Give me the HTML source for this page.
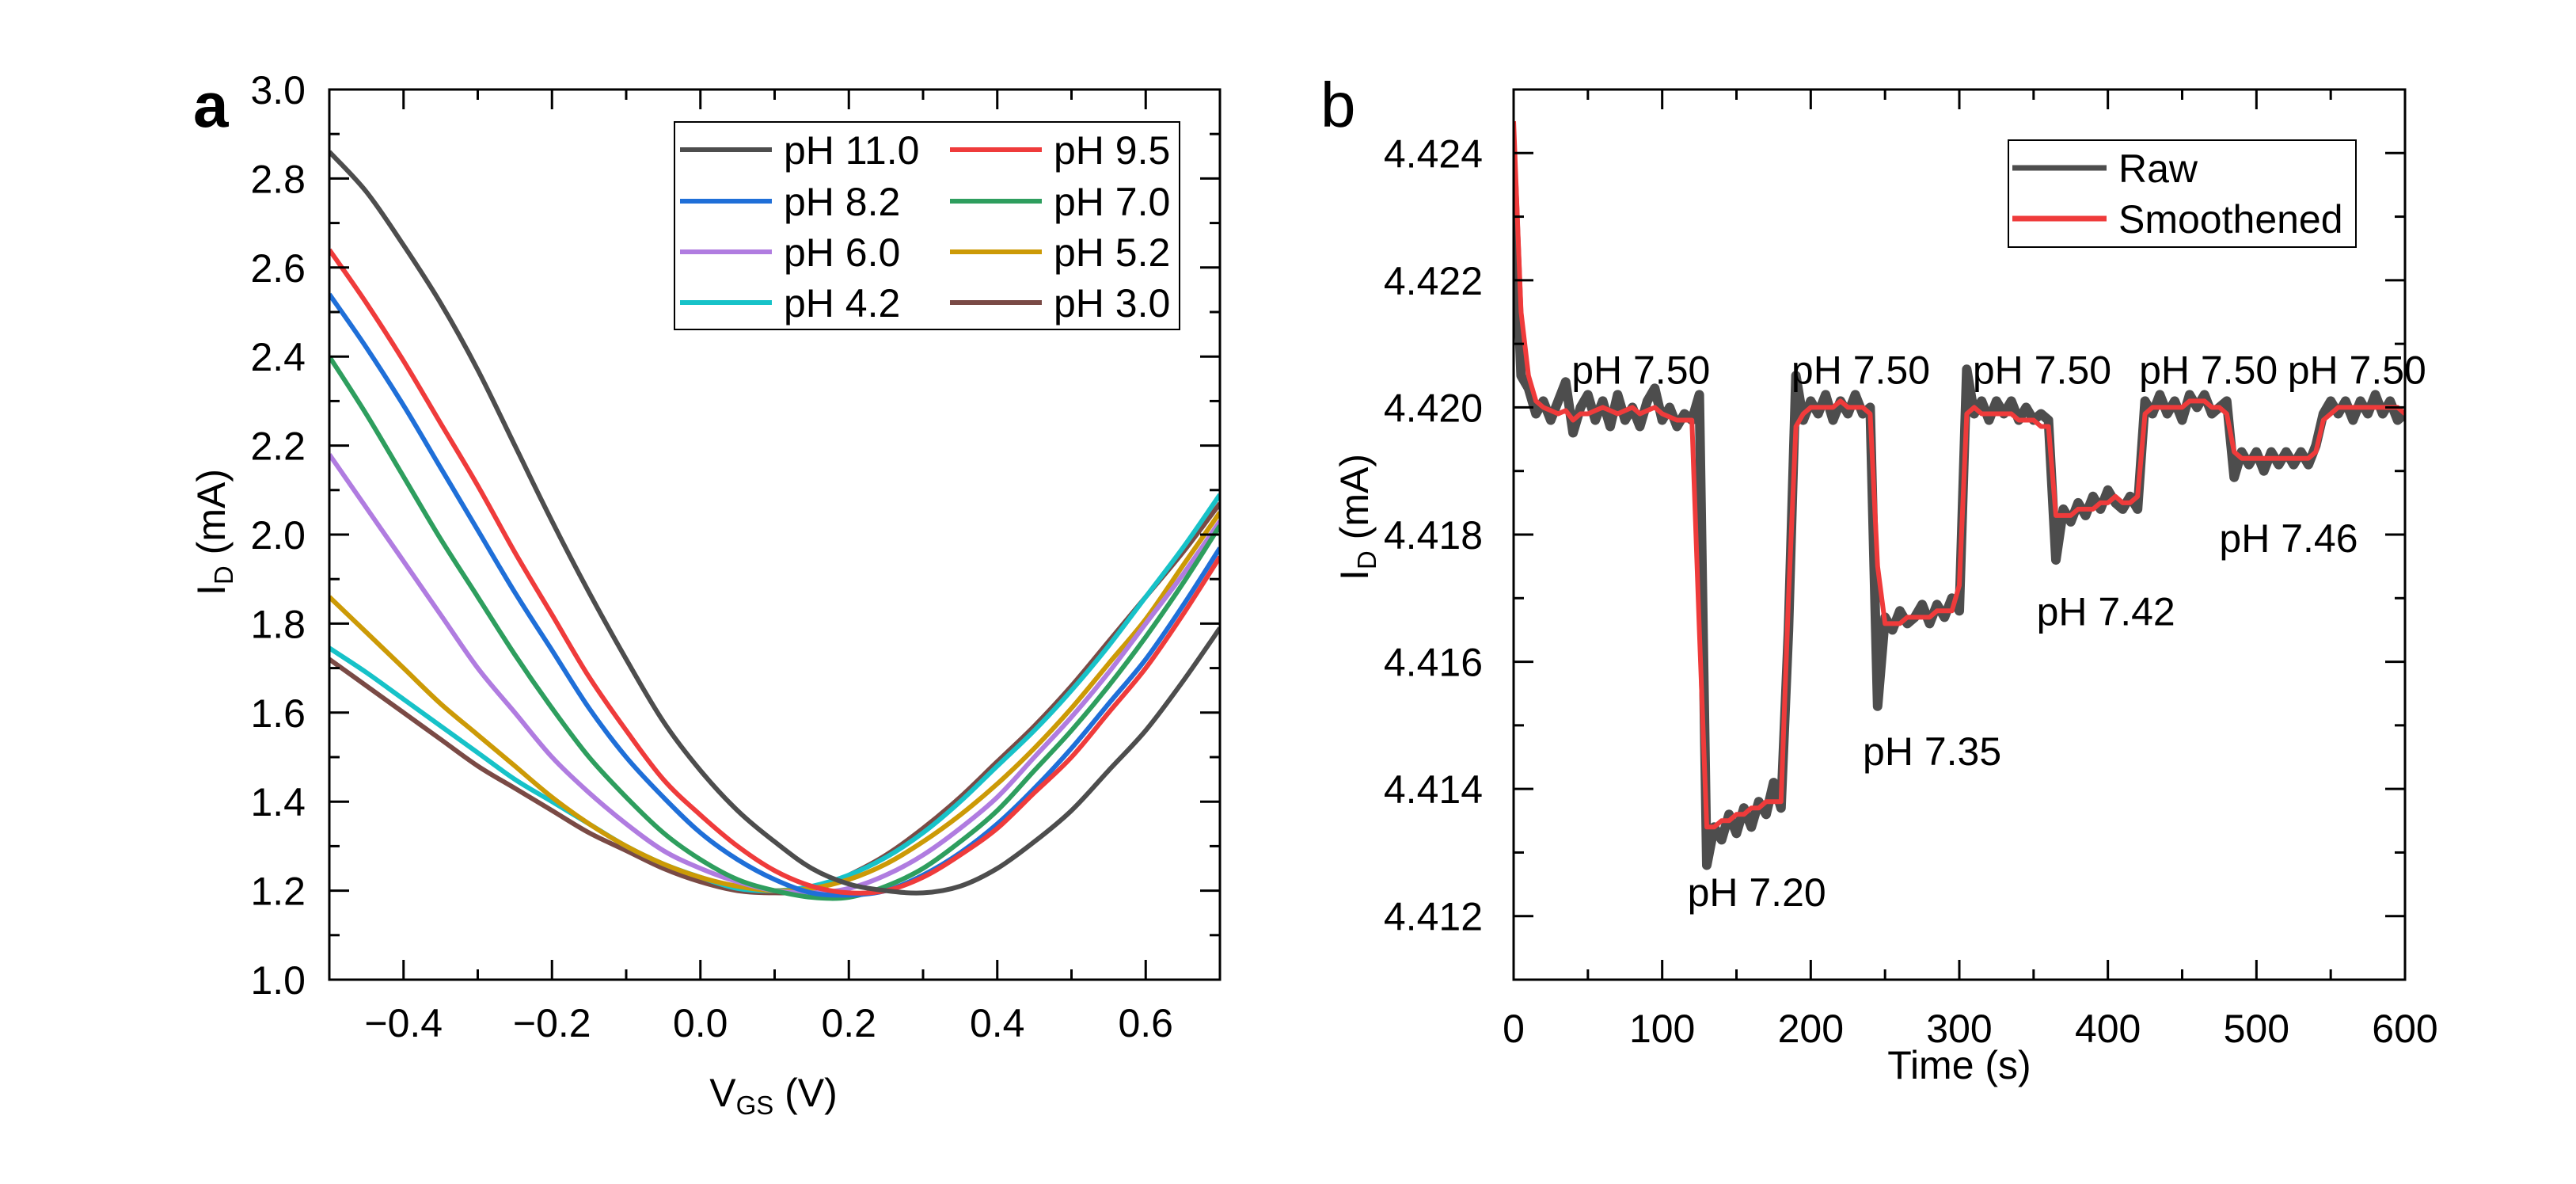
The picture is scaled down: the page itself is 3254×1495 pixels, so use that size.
<!DOCTYPE html>
<html><head><meta charset="utf-8"><style>
html,body{margin:0;padding:0;background:#fff}
svg{display:block;font-family:"Liberation Sans",Arial,sans-serif}
</style></head><body>
<svg id="fig" width="3254" height="1495" viewBox="0 0 3254 1495" xmlns="http://www.w3.org/2000/svg">
<rect width="3254" height="1495" fill="#fff"/>
<g id="pa"></g>
<g id="pb"></g>
</svg>
<script>
// ---------- Panel a data ----------
const vgs = [-0.5,-0.45,-0.4,-0.35,-0.3,-0.25,-0.2,-0.15,-0.1,-0.05,0,0.05,0.1,0.15,0.2,0.25,0.3,0.35,0.4,0.45,0.5,0.55,0.6,0.65,0.7];
const ph110 = [2.86,2.77,2.65,2.52,2.37,2.2,2.03,1.87,1.72,1.58,1.47,1.38,1.31,1.25,1.215,1.2,1.195,1.21,1.25,1.31,1.38,1.47,1.56,1.67,1.79];
const ph95 = [2.64,2.52,2.39,2.25,2.11,1.96,1.82,1.68,1.56,1.45,1.37,1.3,1.245,1.21,1.195,1.2,1.23,1.28,1.34,1.42,1.5,1.6,1.7,1.82,1.95];
const ph82 = [2.54,2.42,2.29,2.15,2.01,1.87,1.74,1.61,1.5,1.41,1.33,1.27,1.225,1.195,1.19,1.2,1.235,1.285,1.35,1.43,1.52,1.62,1.72,1.84,1.97];
const ph70 = [2.4,2.27,2.13,1.99,1.86,1.73,1.61,1.5,1.41,1.33,1.27,1.225,1.2,1.185,1.185,1.21,1.25,1.31,1.38,1.47,1.56,1.66,1.77,1.89,2.02];
const ph60 = [2.18,2.06,1.94,1.82,1.7,1.6,1.5,1.42,1.35,1.29,1.25,1.22,1.2,1.195,1.205,1.235,1.28,1.34,1.41,1.5,1.59,1.69,1.8,1.91,2.03];
const ph52 = [1.86,1.78,1.7,1.62,1.55,1.48,1.41,1.35,1.3,1.26,1.23,1.21,1.2,1.205,1.225,1.26,1.31,1.37,1.44,1.52,1.61,1.71,1.81,1.93,2.05];
const ph42 = [1.745,1.69,1.63,1.57,1.51,1.45,1.4,1.35,1.3,1.26,1.23,1.205,1.2,1.21,1.235,1.275,1.33,1.4,1.48,1.56,1.65,1.75,1.86,1.97,2.09];
const ph30 = [1.72,1.66,1.6,1.54,1.48,1.43,1.38,1.33,1.29,1.25,1.22,1.2,1.195,1.2,1.235,1.28,1.34,1.41,1.49,1.57,1.66,1.76,1.86,1.96,2.07];
const seriesNames = ["pH 11.0","pH 9.5","pH 8.2","pH 7.0","pH 6.0","pH 5.2","pH 4.2","pH 3.0"];
const xTicksA = [-0.4,-0.2,0.0,0.2,0.4,0.6];
const xTickLabelsA = ["\u22120.4","\u22120.2","0.0","0.2","0.4","0.6"];
const yTicksA = [1.0,1.2,1.4,1.6,1.8,2.0,2.2,2.4,2.6,2.8,3.0];

// ---------- Panel b data ----------
const timeS = [];
for (let t = 0; t <= 600; t += 5) timeS.push(t);
const rawI = [4.4235,4.4205,4.4203,4.4199,4.4201,4.4198,4.4201,4.4204,4.4196,4.4200,4.4202,4.4198,4.4201,4.4197,4.4202,4.4198,4.4200,4.4197,4.4201,4.4203,4.4198,4.4200,4.4197,4.4199,4.4198,4.4202,4.4128,4.4134,4.4132,4.4136,4.4133,4.4137,4.4134,4.4138,4.4136,4.4141,4.4137,4.4165,4.4205,4.4198,4.4201,4.4199,4.4202,4.4198,4.4201,4.4199,4.4202,4.4199,4.4200,4.4153,4.4167,4.4165,4.4168,4.4166,4.4167,4.4169,4.4166,4.4169,4.4167,4.4170,4.4168,4.4206,4.4199,4.4201,4.4198,4.4201,4.4199,4.4201,4.4198,4.4200,4.4198,4.4199,4.4198,4.4176,4.4184,4.4182,4.4185,4.4183,4.4186,4.4184,4.4187,4.4185,4.4184,4.4186,4.4184,4.4201,4.4199,4.4202,4.4199,4.4201,4.4198,4.4202,4.4200,4.4202,4.4199,4.4200,4.4201,4.4189,4.4193,4.4191,4.4193,4.4190,4.4193,4.4191,4.4193,4.4191,4.4193,4.4191,4.4194,4.4199,4.4201,4.4199,4.4201,4.4198,4.4201,4.4199,4.4202,4.4199,4.4201,4.4198,4.4199];
const smoothI = [4.4245,4.4215,4.4205,4.4201,4.4200,4.41995,4.4199,4.41995,4.4198,4.4199,4.4199,4.41995,4.4200,4.41995,4.4199,4.41995,4.4200,4.4199,4.41995,4.4200,4.4199,4.41985,4.4198,4.4198,4.4198,4.4165,4.4134,4.4134,4.4135,4.4135,4.4136,4.4136,4.4137,4.4137,4.4138,4.4138,4.4138,4.4170,4.4197,4.4199,4.4200,4.4200,4.4200,4.4200,4.4201,4.4200,4.4200,4.4200,4.4199,4.4175,4.4166,4.4166,4.4166,4.4167,4.4167,4.4167,4.4167,4.4168,4.4168,4.4168,4.4172,4.4199,4.4200,4.4199,4.4199,4.4199,4.4199,4.4199,4.4198,4.4198,4.4198,4.4197,4.4197,4.4183,4.4183,4.4183,4.4184,4.4184,4.4184,4.4185,4.4185,4.4186,4.4185,4.4185,4.4186,4.4199,4.4200,4.4200,4.4200,4.4200,4.4200,4.4201,4.4201,4.4201,4.4200,4.4200,4.4199,4.4193,4.4192,4.4192,4.4192,4.4192,4.4192,4.4192,4.4192,4.4192,4.4192,4.4192,4.4193,4.4198,4.4199,4.4200,4.4200,4.4200,4.4200,4.4200,4.4200,4.4200,4.4200,4.4200,4.4199];
const xTicksB = [0,100,200,300,400,500,600];
const yTicksB = [4.412,4.414,4.416,4.418,4.420,4.422,4.424];
const annLabels = ["pH 7.50","pH 7.50","pH 7.50","pH 7.50","pH 7.50","pH 7.20","pH 7.35","pH 7.42","pH 7.46"];
const annTimes = [39,187,309,421,521,117,235,352,475];
const annValues = [4.4206,4.4206,4.4206,4.4206,4.4206,4.41238,4.41460,4.41680,4.41795];

// ---------- helpers ----------
const NS = "http://www.w3.org/2000/svg";
function mk(parent, tag, attrs, text) {
  const e = document.createElementNS(NS, tag);
  for (const k in attrs) e.setAttribute(k, attrs[k]);
  if (text !== undefined) e.textContent = text;
  parent.appendChild(e);
  return e;
}
function smoothPath(pts) {
  let d = 'M' + pts[0][0].toFixed(1) + ',' + pts[0][1].toFixed(1);
  for (let i = 0; i < pts.length - 1; i++) {
    const p0 = pts[Math.max(i-1,0)], p1 = pts[i], p2 = pts[i+1], p3 = pts[Math.min(i+2,pts.length-1)];
    const c1x = p1[0] + (p2[0]-p0[0])/6, c1y = p1[1] + (p2[1]-p0[1])/6;
    const c2x = p2[0] - (p3[0]-p1[0])/6, c2y = p2[1] - (p3[1]-p1[1])/6;
    d += 'C' + c1x.toFixed(1)+','+c1y.toFixed(1)+' '+c2x.toFixed(1)+','+c2y.toFixed(1)+' '+p2[0].toFixed(1)+','+p2[1].toFixed(1);
  }
  return d;
}
const FS = 50;

// ---------- Panel a ----------
(function(){
  const g = document.getElementById('pa');
  const L=416,R=1541,T=113,B=1237;
  const xs = v => L + (v - (-0.5)) / 1.2 * (R - L);
  const ys = v => B - (v - 1.0) / 2.0 * (B - T);
  const colors = ["#4d4d4d","#ef3b3b","#1f6fd8","#2e9e5e","#b07ce0","#cc9a06","#17c2c8","#7a4a45"];
  const data = [ph110,ph95,ph82,ph70,ph60,ph52,ph42,ph30];
  const cp = mk(document.getElementById('fig'),'clipPath',{id:'clipA'});
  mk(cp,'rect',{x:L,y:T,width:R-L,height:B-T});
  for (let s = 7; s >= 0; s--) {
    const pts = data[s].map((v,i)=>[xs(vgs[i]), ys(v)]);
    const p = mk(g,'path',{d:smoothPath(pts),fill:'none',stroke:colors[s],'stroke-width':6,'stroke-linejoin':'round','clip-path':'url(#clipA)'});
    
    
  }
  const fr = mk(g,'rect',{x:L,y:T,width:R-L,height:B-T,fill:'none',stroke:'#000','stroke-width':3});
  
  
  for (let k=0; k<=12; k++) {
    const v=-0.5+k*0.1, x = xs(v);
    const len = (k%2===1)?25:13;
    mk(g,'line',{x1:x,x2:x,y1:B,y2:B-len,stroke:'#000','stroke-width':3});
    mk(g,'line',{x1:x,x2:x,y1:T,y2:T+len,stroke:'#000','stroke-width':3});
  }
  xTicksA.forEach((v,i)=>{
    const t = mk(g,'text',{x:xs(v),y:1309,'font-size':FS,'text-anchor':'middle'},xTickLabelsA[i]);
    
    
  });
  for (let k=0; k<=20; k++) {
    const v=1.0+k*0.1, y = ys(v), len = (k%2===0)?25:13;
    mk(g,'line',{x1:L,x2:L+len,y1:y,y2:y,stroke:'#000','stroke-width':3});
    mk(g,'line',{x1:R,x2:R-len,y1:y,y2:y,stroke:'#000','stroke-width':3});
  }
  yTicksA.forEach(v=>{
    const t = mk(g,'text',{x:386,y:ys(v)+18,'font-size':FS,'text-anchor':'end'},v.toFixed(1));
    
    
  });
  const xt = mk(g,'text',{x:977,y:1397,'font-size':FS,'text-anchor':'middle'});
  
  
  xt.innerHTML = 'V<tspan font-size="33" dy="10">GS</tspan><tspan dy="-10"> (V)</tspan>';
  const yt = mk(g,'text',{x:0,y:0,'font-size':FS,'text-anchor':'middle',transform:'translate(284,672) rotate(-90)'});
  
  
  yt.innerHTML = 'I<tspan font-size="33" dy="10">D</tspan><tspan dy="-10"> (mA)</tspan>';
  const lab = mk(g,'text',{x:244,y:160,'font-size':80,'font-weight':'bold'},'a');
  
  
  const lg = mk(g,'g',{});
  
  
  mk(lg,'rect',{x:852,y:154,width:638,height:262,fill:'#fff',stroke:'#000','stroke-width':2});
  const rowsY=[189,254,318,382];
  for (let s=0;s<8;s++){
    const col=s%2,row=Math.floor(s/2);
    const lx = col?1200:859, tx = col?1331:990, y=rowsY[row];
    const e = mk(lg,'g',{});
    
    
    mk(e,'line',{x1:lx,x2:lx+116,y1:y,y2:y,stroke:colors[s],'stroke-width':6});
    mk(e,'text',{x:tx,y:y+18,'font-size':FS},seriesNames[s]);
  }
})();

// ---------- Panel b ----------
(function(){
  const g = document.getElementById('pb');
  const L=1912,R=3038,T=113,B=1237, Y0=4.411, Y1=4.425;
  const xs = v => L + v/600*(R-L);
  const ys = v => B - (v-Y0)/(Y1-Y0)*(B-T);
  const cp = mk(document.getElementById('fig'),'clipPath',{id:'clipB'});
  mk(cp,'rect',{x:L,y:T,width:R-L,height:B-T});
  const raw = mk(g,'path',{d:rawI.map((v,i)=>(i?'L':'M')+xs(timeS[i]).toFixed(1)+','+ys(v).toFixed(1)).join(''),fill:'none',stroke:'#4d4d4d','stroke-width':12,'stroke-linejoin':'round','clip-path':'url(#clipB)'});
  
  
  const sm = mk(g,'path',{d:smoothI.map((v,i)=>(i?'L':'M')+xs(timeS[i]).toFixed(1)+','+ys(v).toFixed(1)).join(''),fill:'none',stroke:'#ef3b3b','stroke-width':6,'stroke-linejoin':'round','clip-path':'url(#clipB)'});
  
  
  const fr = mk(g,'rect',{x:L,y:T,width:R-L,height:B-T,fill:'none',stroke:'#000','stroke-width':3});
  
  
  for (let v=0; v<=600; v+=50) {
    const x=xs(v), len=(v%100===0)?25:13;
    mk(g,'line',{x1:x,x2:x,y1:B,y2:B-len,stroke:'#000','stroke-width':3});
    mk(g,'line',{x1:x,x2:x,y1:T,y2:T+len,stroke:'#000','stroke-width':3});
  }
  xTicksB.forEach(v=>{
    const t = mk(g,'text',{x:xs(v),y:1316,'font-size':FS,'text-anchor':'middle'},String(v));
    
    
  });
  for (let k=0;k<=14;k++){
    const v=Y0+k*0.001, y=ys(v), len=(k%2===1)?25:13;
    mk(g,'line',{x1:L,x2:L+len,y1:y,y2:y,stroke:'#000','stroke-width':3});
    mk(g,'line',{x1:R,x2:R-len,y1:y,y2:y,stroke:'#000','stroke-width':3});
  }
  yTicksB.forEach(v=>{
    const t = mk(g,'text',{x:1873,y:ys(v)+18,'font-size':FS,'text-anchor':'end'},v.toFixed(3));
    
    
  });
  const xt = mk(g,'text',{x:2475,y:1362,'font-size':FS,'text-anchor':'middle'},'Time (s)');
  
  
  const yt = mk(g,'text',{x:0,y:0,'font-size':FS,'text-anchor':'middle',transform:'translate(1728,653) rotate(-90)'});
  
  
  yt.innerHTML = 'I<tspan font-size="33" dy="10">D</tspan><tspan dy="-10"> (mA)</tspan>';
  const lab = mk(g,'text',{x:1668,y:160,'font-size':80},'b');
  
  
  annLabels.forEach((s,i)=>{
    const t = mk(g,'text',{x:xs(annTimes[i]),y:ys(annValues[i])+18,'font-size':FS},s);
    
    
  });
  const lg = mk(g,'g',{});
  
  
  mk(lg,'rect',{x:2537,y:177,width:439,height:135,fill:'#fff',stroke:'#000','stroke-width':2});
  const e1 = mk(lg,'g',{});
  
  
  mk(e1,'line',{x1:2542,x2:2661,y1:212,y2:212,stroke:'#4d4d4d','stroke-width':7});
  mk(e1,'text',{x:2676,y:230,'font-size':FS},'Raw');
  const e2 = mk(lg,'g',{});
  
  
  mk(e2,'line',{x1:2542,x2:2661,y1:276,y2:276,stroke:'#ef3b3b','stroke-width':7});
  mk(e2,'text',{x:2676,y:294,'font-size':FS},'Smoothened');
})();
</script>
</body></html>
